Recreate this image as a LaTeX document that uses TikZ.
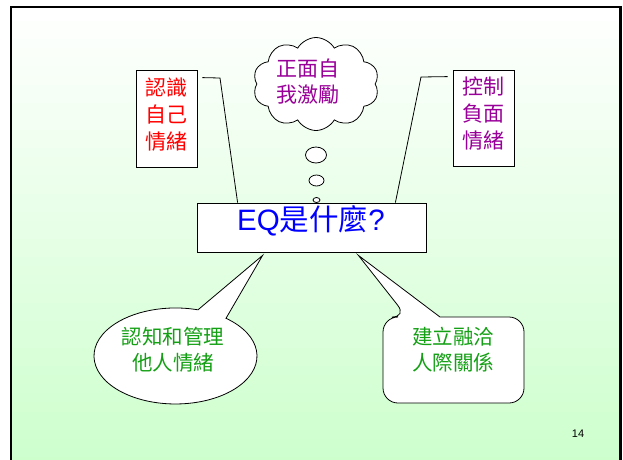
\documentclass[tikz,border=0pt]{standalone}
\usepackage{fontspec}
\setmainfont{Liberation Sans}
\newfontfamily\cjk{Noto Sans CJK TC}
\usetikzlibrary{shapes.geometric,shapes.symbols}
\definecolor{bgg}{RGB}{204,255,204}
\definecolor{txtred}{RGB}{255,0,0}
\definecolor{txtpurple}{RGB}{153,0,153}
\definecolor{txtblue}{RGB}{0,0,255}
\definecolor{txtgreen}{RGB}{20,160,20}
\tikzset{
  box/.style={draw=black, fill=white, line width=0.8pt, inner sep=0pt},
  cjkbig/.style={font=\cjk\fontsize{21}{27}\selectfont, align=center},
  cjkmid/.style={font=\cjk\fontsize{20.5}{26}\selectfont, align=center},
  bubble/.style={ellipse, draw=black, fill=white, line width=0.8pt, inner sep=0pt},
  link/.style={draw=black, line width=0.8pt},
  callout/.style={draw=black, fill=white, line width=0.8pt},
}
\begin{document}
\begin{tikzpicture}[x=1pt,y=-1pt]
\useasboundingbox (0,0) rectangle (623,459);
\clip (0,0) rectangle (623,459);
\shade[top color=white, bottom color=bgg] (11,7) rectangle (620.5,470);
\draw[line width=2.5pt] (11,7) rectangle (620.5,470);

% side boxes
\node[box, minimum width=61pt, minimum height=97pt] (self) at (166.5,118.5) {};
\node[cjkbig, text=txtred] (selftext) at (166.5,114.5) {認識\\自己\\情緒};
\node[box, minimum width=61pt, minimum height=96pt] (ctrl) at (483.5,118) {};
\node[cjkbig, text=txtpurple] (ctrltext) at (483.5,114) {控制\\負面\\情緒};

% main box
\node[box, minimum width=229pt, minimum height=49pt] (eq) at (311.5,227.5) {};
\node[text=txtblue, font=\fontsize{29.5}{32}\selectfont] (eqtext) at (311,221) {EQ{\cjk 是什麼}?};

% cloud
\node[cloud, draw=black, fill=white, line width=0.8pt, cloud puffs=10, cloud puff arc=120, aspect=1.35, minimum width=126pt, minimum height=93pt, inner sep=0pt] (cloud) at (316,84) {};
\node[cjkbig, text=txtpurple, font=\cjk\fontsize{21}{26}\selectfont] (cloudtext) at (308,82) {正面自\\我激勵};
\node[bubble, minimum width=21pt, minimum height=16pt] (b1) at (316,155) {};
\node[bubble, minimum width=15pt, minimum height=11pt] (b2) at (316.5,180.5) {};
\node[bubble, minimum width=7pt, minimum height=5pt] (b3) at (316.5,200) {};

% callout lines
\coordinate (lk1) at (220,78);
\coordinate (lk2) at (421,77);
\draw[link] ([xshift=5pt,yshift=-8pt]self.north east) -- (lk1) -- ([xshift=41pt]eq.north west);
\draw[link] ([xshift=-5pt,yshift=-7pt]ctrl.north west) -- (lk2) -- ([xshift=-31pt]eq.north east);

% speech callouts
\coordinate (tipL) at ([xshift=66pt,yshift=-3pt]eq.south west);
\coordinate (tipR) at ([xshift=-68pt,yshift=-3pt]eq.south east);
\draw[callout] (226,318.3) arc[start angle=-51.7, end angle=286, x radius=81.5, y radius=48] -- (tipL) -- cycle;
\draw[callout] (440,317) [rounded corners=15pt] -- (524,317) -- (524,403) -- (383,403) -- (383,317) -- (407,317) [sharp corners] -- (tipR) -- cycle;

\node[cjkmid, text=txtgreen] (t1) at (173,350) {認知和管理\\他人情緒};
\node[cjkmid, text=txtgreen] (t2) at (453,349.5) {建立融洽\\人際關係};

\node[font=\fontsize{11}{13}\selectfont] (pg) at (578,434) {14};
\end{tikzpicture}
\end{document}
